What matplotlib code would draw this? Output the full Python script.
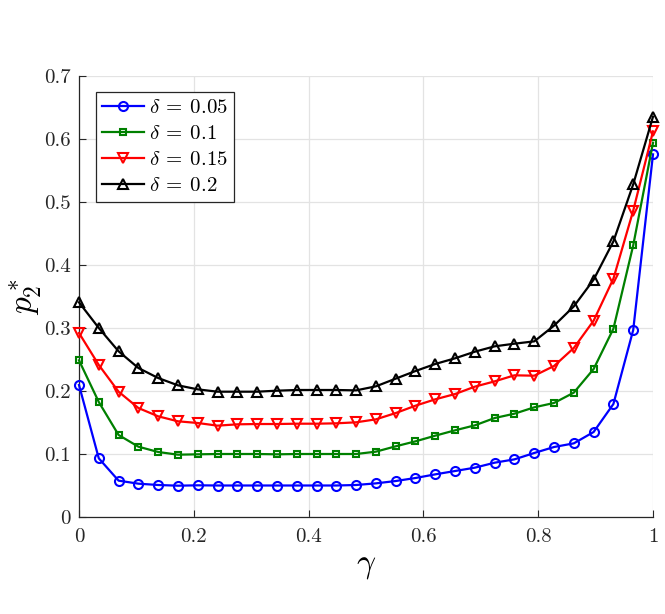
import numpy as np
import matplotlib
matplotlib.use("Agg")
import matplotlib.pyplot as plt

plt.rcParams['font.family'] = 'serif'
plt.rcParams['font.serif'] = ['cmr10', 'DejaVu Serif']
plt.rcParams['mathtext.fontset'] = 'cm'
plt.rcParams['axes.formatter.use_mathtext'] = True

gamma = np.linspace(0, 1, 30)

p_d005 = [0.2095, 0.0931, 0.0577, 0.0529, 0.0508, 0.0497, 0.0503, 0.0500, 0.0500, 0.0500,
          0.0500, 0.0500, 0.0500, 0.0500, 0.0508, 0.0534, 0.0571, 0.0619, 0.0677, 0.0730,
          0.0783, 0.0862, 0.0915, 0.1016, 0.1111, 0.1169, 0.1349, 0.1794, 0.2968, 0.5756]
p_d010 = [0.2487, 0.1825, 0.1302, 0.1116, 0.1032, 0.0989, 0.0995, 0.1000, 0.1000, 0.1000,
          0.0995, 0.1000, 0.1000, 0.1000, 0.1000, 0.1037, 0.1122, 0.1201, 0.1291, 0.1376,
          0.1455, 0.1571, 0.1640, 0.1741, 0.1810, 0.1974, 0.2349, 0.2989, 0.4311, 0.5941]
p_d015 = [0.2921, 0.2413, 0.1989, 0.1730, 0.1598, 0.1519, 0.1492, 0.1450, 0.1471, 0.1476,
          0.1476, 0.1481, 0.1481, 0.1487, 0.1503, 0.1550, 0.1650, 0.1767, 0.1868, 0.1952,
          0.2069, 0.2153, 0.2249, 0.2243, 0.2397, 0.2683, 0.3116, 0.3783, 0.4862, 0.6121]
p_d020 = [0.3407, 0.3000, 0.2630, 0.2365, 0.2206, 0.2090, 0.2026, 0.1989, 0.1989, 0.1989,
          0.2005, 0.2016, 0.2016, 0.2016, 0.2010, 0.2074, 0.2196, 0.2317, 0.2429, 0.2519,
          0.2624, 0.2709, 0.2751, 0.2788, 0.3037, 0.3343, 0.3767, 0.4375, 0.5280, 0.6354]

labels = [r'$\delta\:=\:0.05$', r'$\delta\:=\:0.1$', r'$\delta\:=\:0.15$', r'$\delta\:=\:0.2$']
xticks = [0, 0.2, 0.4, 0.6, 0.8, 1]
yticks = [0, 0.1, 0.2, 0.3, 0.4, 0.5, 0.6, 0.7]

fig = plt.figure(figsize=(6.65, 6.14), dpi=100)
ax = fig.add_axes([79/665, 1-517/614, (653-79)/665, (517-76)/614])

styles = [
    dict(color=(0, 0, 1), marker='o', ms=6.5),
    dict(color=(0, 0.5, 0), marker='s', ms=5),
    dict(color=(1, 0, 0), marker='v', ms=7.5),
    dict(color='black', marker='^', ms=7.5),
]
for y, lab, st in zip([p_d005, p_d010, p_d015, p_d020], labels, styles):
    ax.plot(gamma, y, color=st['color'], marker=st['marker'], ms=st['ms'],
            mfc='none', mew=1.5, lw=1.6, label=lab, clip_on=False, zorder=3)

ax.set_xlim(0, 1)
ax.set_ylim(0, 0.7)
ax.set_xticks(xticks)
ax.set_yticks(yticks)
ax.set_xticklabels(['0', '0.2', '0.4', '0.6', '0.8', '1'])
ax.set_yticklabels(['0', '0.1', '0.2', '0.3', '0.4', '0.5', '0.6', '0.7'])
ax.tick_params(direction='in', labelsize=15, length=5, width=0.8, colors='#262626')
ax.tick_params(axis='x', pad=8)
ax.tick_params(axis='y', pad=6)
ax.grid(True, color='#e3e3e3', lw=0.9)
ax.set_axisbelow(True)
for s in ['top', 'right']:
    ax.spines[s].set_visible(False)
for s in ['left', 'bottom']:
    ax.spines[s].set_color('#262626')
    ax.spines[s].set_linewidth(0.9)

ax.set_xlabel(r'$\gamma$', fontsize=24, labelpad=4)
ax.set_ylabel(r'$p_2^*$', fontsize=24, labelpad=0)

leg = ax.legend(loc='upper left', bbox_to_anchor=(0.029, 0.963), fontsize=15,
                frameon=True, fancybox=False, edgecolor='#262626', framealpha=1,
                handlelength=2.0, handletextpad=0.25, borderpad=0.3, labelspacing=0.36,
                borderaxespad=0)
leg.get_frame().set_linewidth(0.9)

fig.savefig('out.png', dpi=100)
